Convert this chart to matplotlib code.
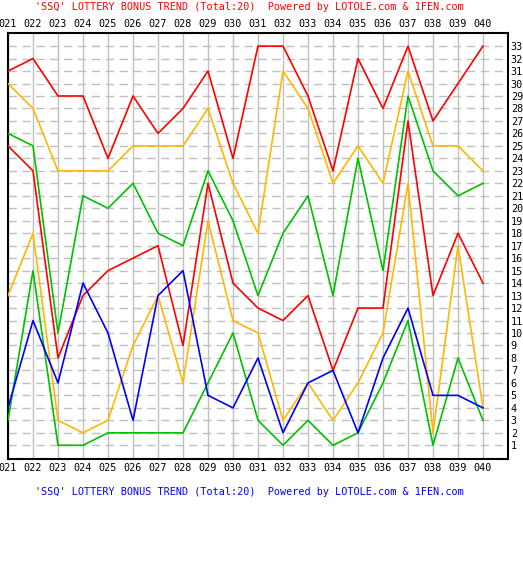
import matplotlib
matplotlib.use("Agg")
import matplotlib.pyplot as plt

# draw numbers 021 .. 040
draws = ["021", "022", "023", "024", "025", "026", "027", "028", "029", "030",
         "031", "032", "033", "034", "035", "036", "037", "038", "039", "040"]

# six red balls, sorted high to low, plus the blue ball
red_1 = [31, 32, 29, 29, 24, 29, 26, 28, 31, 24, 33, 33, 29, 23, 32, 28, 33, 27, 30, 33]
red_2 = [30, 28, 23, 23, 23, 25, 25, 25, 28, 22, 18, 31, 28, 22, 25, 22, 31, 25, 25, 23]
red_3 = [26, 25, 10, 21, 20, 22, 18, 17, 23, 19, 13, 18, 21, 13, 24, 15, 29, 23, 21, 22]
red_4 = [25, 23, 8, 13, 15, 16, 17, 9, 22, 14, 12, 11, 13, 7, 12, 12, 27, 13, 18, 14]
red_5 = [13, 18, 3, 2, 3, 9, 13, 6, 19, 11, 10, 3, 6, 3, 6, 10, 22, 2, 17, 4]
red_6 = [3, 15, 1, 1, 2, 2, 2, 2, 6, 10, 3, 1, 3, 1, 2, 6, 11, 1, 8, 3]
blue = [4, 11, 6, 14, 10, 3, 13, 15, 5, 4, 8, 2, 6, 7, 2, 8, 12, 5, 5, 4]

title = "'SSQ' LOTTERY BONUS TREND (Total:20)  Powered by LOTOLE.com & 1FEN.com"

W, H = 523, 565
fig = plt.figure(figsize=(W / 100, H / 100), dpi=100)
fig.patch.set_facecolor("white")

# plot box in pixels: left 8, right 508, top 33, bottom 459
ax = fig.add_axes([8 / W, (H - 459) / H, 500 / W, (459 - 33) / H])

mono = "DejaVu Sans Mono"
fs = 7.3

x = list(range(len(draws)))
ax.set_xlim(0, 20)
ax.set_ylim(-0.1, 34.05)

# grid: solid vertical, dashed horizontal
for i in x:
    ax.axvline(i, color="#c0c0c0", lw=1, zorder=1)
for v in range(1, 34):
    ax.axhline(v, color="#c0c0c0", lw=1, ls=(0, (6, 4)), zorder=1)

series = [(red_1, "#ff0000"), (red_2, "#ffb800"), (red_3, "#00c000"),
          (red_4, "#ff0000"), (red_5, "#ffb800"), (red_6, "#00c000"),
          (blue, "#0000ff")]
for vals, col in series:
    ax.plot(x, vals, color=col, lw=1.2, zorder=3)

ax.set_xticks(x)
ax.set_xticklabels(draws, fontfamily=mono, fontsize=fs)
ax.tick_params(axis="x", length=0, labeltop=True, labelbottom=True, pad=3)

ax.yaxis.tick_right()
ax.set_yticks(range(1, 34))
ax.set_yticklabels([str(v) for v in range(1, 34)], fontfamily=mono, fontsize=fs)
ax.tick_params(axis="y", length=0, pad=2)

for s in ax.spines.values():
    s.set_color("black")
    s.set_linewidth(1.5)

fig.text(35 / W, 1 - 7 / H, title, color="#ff0000", fontfamily=mono,
         fontsize=fs, ha="left", va="center")
fig.text(35 / W, 1 - 492 / H, title, color="#0000ff", fontfamily=mono,
         fontsize=fs, ha="left", va="center")

fig.savefig("out.png", dpi=100)
